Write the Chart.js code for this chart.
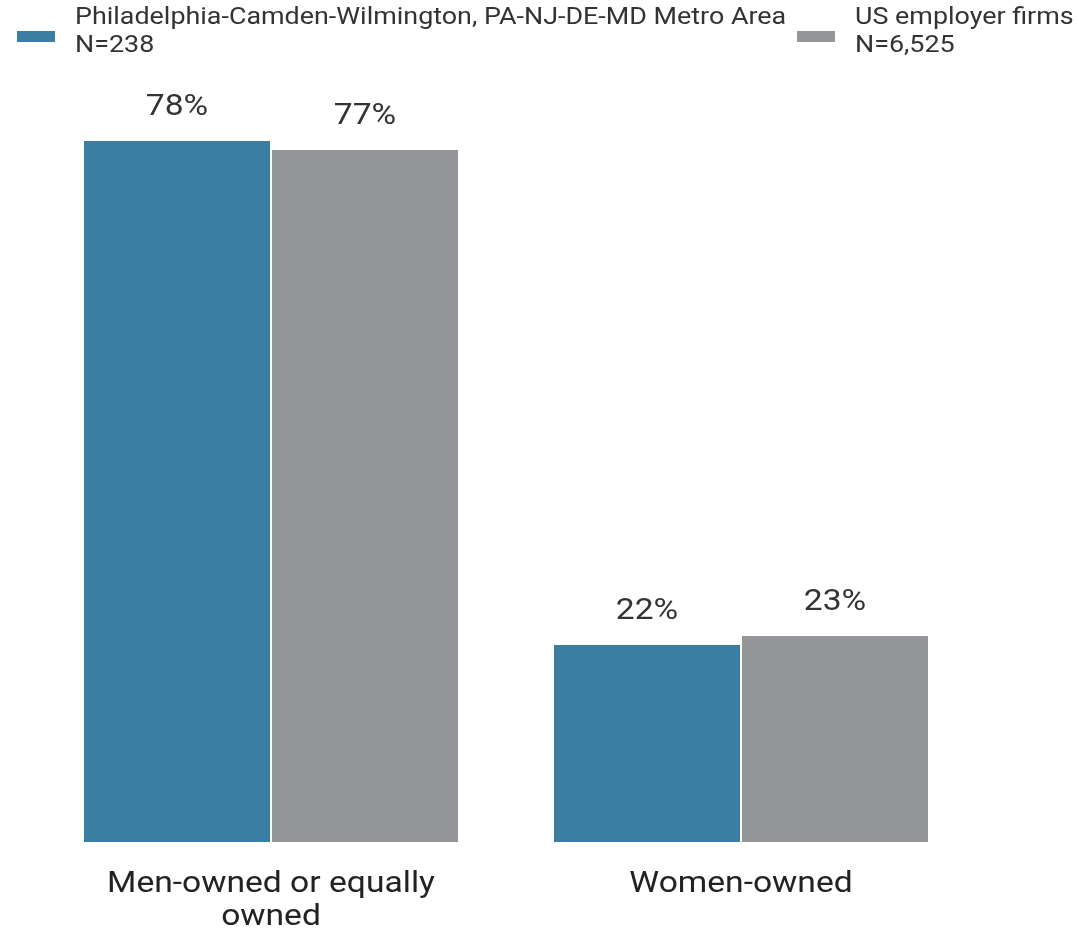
<!DOCTYPE html>
<html>
<head>
<meta charset="utf-8">
<script src="https://cdn.jsdelivr.net/npm/chart.js@4.4.1/dist/chart.umd.min.js"></script>
<style>
  body { margin: 0; background: #fff; }
  #wrap { width: 1079px; height: 933px; position: relative; }
</style>
</head>
<body>
<div id="wrap"><canvas id="myChart"></canvas></div>
<script>
// categories and series
const categories = [["Men-owned or equally", "owned"], ["Women-owned"]];
const seriesNames = [
    ["Philadelphia-Camden-Wilmington, PA-NJ-DE-MD Metro Area", "N=238"],
    ["US employer firms", "N=6,525"]
];
const metroValues = [78, 22];
const usValues = [77, 23];
const seriesColors = ["#3a7ea1", "#939598"];

const FONT = "Roboto, sans-serif";
const STRETCH = 1.12;   // text is set a little wide

// draw a line of text widened horizontally around its anchor x
function wideText(ctx, text, x, y, align) {
    ctx.save();
    ctx.translate(x, y);
    ctx.scale(STRETCH, 1);
    ctx.textAlign = align;
    ctx.fillText(text, 0, 0);
    ctx.restore();
}

// legend drawn by hand so the two-line labels sit where we want them
const legendPlugin = {
    id: "topLegend",
    afterDraw(chart) {
        const ctx = chart.ctx;
        const starts = [17, 797];
        ctx.save();
        ctx.font = "24px " + FONT;
        ctx.textBaseline = "middle";
        chart.data.datasets.forEach((ds, i) => {
            const x = starts[i];
            ctx.fillStyle = ds.backgroundColor;
            ctx.fillRect(x, 31, 38, 11);
            ctx.fillStyle = "#333";
            ds.legendText.forEach((line, j) => {
                wideText(ctx, line, x + 58, 18 + j * 28, "left");
            });
        });
        ctx.restore();
    }
};

// value labels above each bar, category names under the axis
const textLabels = {
    id: "textLabels",
    afterDatasetsDraw(chart) {
        const ctx = chart.ctx;
        ctx.save();
        ctx.font = "30px " + FONT;
        ctx.fillStyle = "#333";
        ctx.textBaseline = "middle";
        chart.data.datasets.forEach((ds, i) => {
            chart.getDatasetMeta(i).data.forEach((bar, j) => {
                wideText(ctx, ds.data[j] + "%", bar.x, bar.y - 33, "center");
            });
        });

        const xs = chart.scales.x;
        ctx.fillStyle = "#222";
        chart.data.labels.forEach((lines, i) => {
            const cx = xs.getPixelForValue(i);
            lines.forEach((line, j) => {
                wideText(ctx, line, cx, xs.top + 42 + j * 33, "center");
            });
        });
        ctx.restore();
    }
};

const ctx = document.getElementById("myChart").getContext("2d");
new Chart(ctx, {
    type: "bar",
    data: {
        labels: categories,
        datasets: [
            {
                label: seriesNames[0].join(" "),
                legendText: seriesNames[0],
                data: metroValues,
                backgroundColor: seriesColors[0],
                borderColor: "#fff",
                borderWidth: 1
            },
            {
                label: seriesNames[1].join(" "),
                legendText: seriesNames[1],
                data: usValues,
                backgroundColor: seriesColors[1],
                borderColor: "#fff",
                borderWidth: 1
            }
        ]
    },
    options: {
        responsive: true,
        maintainAspectRatio: false,
        animation: false,
        layout: { padding: { top: 86, left: 36, right: 103, bottom: 91 } },
        datasets: { bar: { categoryPercentage: 0.8, barPercentage: 1.0 } },
        plugins: {
            legend: { display: false },
            tooltip: { enabled: false }
        },
        scales: {
            x: {
                grid: { display: false, drawTicks: false },
                border: { display: false },
                ticks: { display: false }
            },
            y: {
                display: false,
                min: 0,
                max: 84
            }
        }
    },
    plugins: [legendPlugin, textLabels]
});
</script>
</body>
</html>
